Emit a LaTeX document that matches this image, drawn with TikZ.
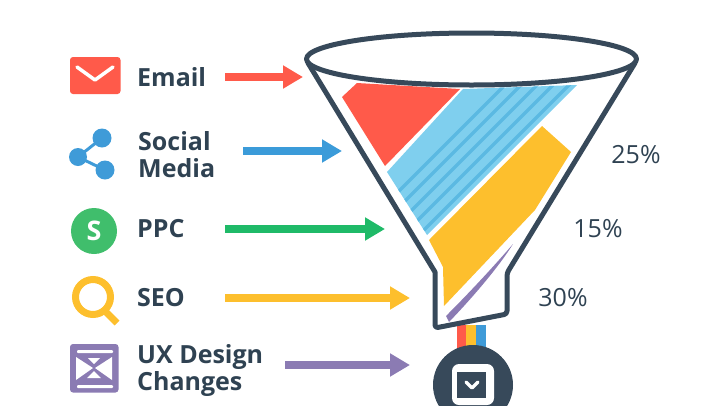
\documentclass[tikz,border=0pt]{standalone}
\usepackage{fontspec}
\setmainfont{Open Sans}
\usetikzlibrary{arrows.meta}
\definecolor{inkdark}{HTML}{2F4252}
\definecolor{funneldark}{HTML}{37495A}
\definecolor{flowred}{HTML}{FF5A4A}
\definecolor{flowblue}{HTML}{3B9BD9}
\definecolor{flowgreen}{HTML}{1FBA68}
\definecolor{iconyellow}{HTML}{FDBF2D}
\definecolor{flowpurple}{HTML}{8B7BB3}
\definecolor{bandblue}{HTML}{7FCFEE}
\definecolor{bandstripe}{HTML}{5BB9E2}
\definecolor{iconblue}{HTML}{3F9BD8}
\definecolor{icongreen}{HTML}{40BE6C}

\begin{document}
\begin{tikzpicture}[x=1pt,y=-1pt,
  channel/.style={font=\fontsize{25}{27}\selectfont\bfseries,text=inkdark,anchor=west,align=left,inner sep=0pt},
  share/.style={font=\fontsize{25}{27}\selectfont,text=inkdark,inner sep=0pt},
  flow/.style={line width=8pt,-{Triangle[length=20pt,width=22pt]}},
  rim/.style={draw=funneldark,line width=5pt,line join=round}]

  \useasboundingbox (0,0) rectangle (720,405);

  % colour bands inside the funnel
  \fill[flowred] (357,83) -- (342,97) -- (385,166) -- (460,89) -- cycle;
  \begin{scope}
    \clip (463,89) -- (577,85) -- (427,235) -- (387,172) -- cycle;
    \fill[bandblue] (380,80) rectangle (580,240);
    \foreach \s in {0,16,...,240}
      \draw[bandstripe,line width=3.5pt] (360+\s,230) -- (360+\s+170,60);
  \end{scope}
  \fill[iconyellow] (542,126) -- (571,152) -- (535,210) -- (444,306) -- (443,267) -- (429,240) -- cycle;
  \fill[flowpurple] (513,244) .. controls (500,265) and (475,295) .. (449,322) -- (446,316) .. controls (470,292) and (495,265) .. cycle;

  % stripes under the funnel
  \fill[flowred] (457,325) rectangle (466,350);
  \fill[iconyellow] (466,325) rectangle (476,350);
  \fill[iconblue] (476,325) rectangle (486,350);

  % funnel
  \draw[rim] (308,63) -- (435,272) -- (435,323) [rounded corners=3pt] -- (435,328) -- (507,314) -- (507,273) [sharp corners] -- (635,63);
  \draw[rim,fill=white] (471.5,59) ellipse (165 and 26);

  % output circle
  \fill[funneldark] (473,385) circle (40);
  \fill[white,rounded corners=7pt] (452,364) rectangle (494,405);
  \fill[funneldark] (457,372) rectangle (486,398);
  \draw[white,line width=3.5pt,line cap=round,line join=round] (466,382) -- (472,388) -- (478,382);

  % email icon
  \fill[flowred,rounded corners=3pt] (70,57) rectangle (120.5,94);
  \draw[white,line width=3.5pt,line cap=round,line join=round] (77,67) -- (95,80) -- (113,67);
  % social icon
  \draw[iconblue,line width=3pt] (102,138) -- (78,157) -- (105,170);
  \fill[iconblue] (78,157) circle (9) (102,138) circle (9.5) (105,170) circle (9.5);
  % ppc icon
  \fill[icongreen] (94,231) circle (23);
  \node[font=\fontsize{27}{27}\selectfont\bfseries,text=white,inner sep=0pt] (ppcmark) at (94,231) {S};
  % seo icon
  \draw[iconyellow,line width=7pt] (93,297) circle (17.5);
  \draw[iconyellow,line width=7pt] (105,311) -- (117,323);
  % ux icon
  \fill[flowpurple,rounded corners=3pt] (70,344) rectangle (118.5,392.5);
  \fill[white,rounded corners=1pt] (77,350) rectangle (113,353);
  \fill[white,rounded corners=1pt] (77,385) rectangle (113,388);
  \fill[white] (76,357) -- (93,368) -- (76,380) -- cycle;
  \fill[white] (112,357) -- (95,368) -- (112,380) -- cycle;
  \fill[white] (88,358) -- (100,358) -- (94,364) -- cycle;
  \fill[white] (87,378) -- (101,378) -- (94,371) -- cycle;

  % channel labels
  \node[channel] (email) at (137,77) {Email};
  \node[channel] (social) at (138,155) {Social\\Media};
  \node[channel] (ppc) at (137,229) {PPC};
  \node[channel] (seo) at (137,298) {SEO};
  \node[channel] (ux) at (137,370) {UX Design\\Changes};

  % share labels
  \node[share] (share25) at (636,155) {25\%};
  \node[share] (share15) at (598,229) {15\%};
  \node[share] (share30) at (563,298) {30\%};

  % where the arrows end
  \coordinate (emailin) at (303,77);
  \coordinate (socialin) at (342,151);
  \coordinate (ppcin) at (385,229);
  \coordinate (seoin) at (410,298);
  \coordinate (uxin) at (410,365);

  \draw[flow,flowred] (225,77) -- (emailin);
  \draw[flow,flowblue] (243,151) -- (socialin);
  \draw[flow,flowgreen] (225,229) -- (ppcin);
  \draw[flow,iconyellow] (225,298) -- (seoin);
  \draw[flow,flowpurple] (285,365) -- (uxin);
\end{tikzpicture}
\end{document}
